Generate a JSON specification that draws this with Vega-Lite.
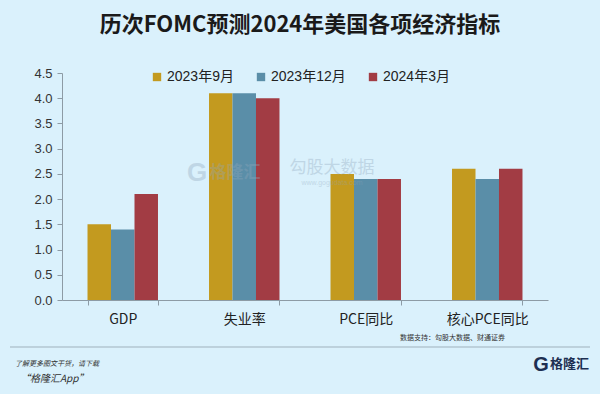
{
  "$schema": "https://vega.github.io/schema/vega-lite/v6.json",
  "autosize": "none",
  "width": 486,
  "height": 227,
  "padding": {"left": 62, "top": 73, "right": 52, "bottom": 94},
  "background": "#daf1fc",
  "title": {
    "text": "历次FOMC预测2024年美国各项经济指标",
    "fontSize": 22,
    "fontWeight": "bold",
    "font": "Noto Sans CJK SC",
    "color": "#1a1a1a",
    "anchor": "middle",
    "frame": "group",
    "dx": -5,
    "dy": -4,
    "offset": 26
  },
  "config": {
    "view": {"stroke": null},
    "font": "Liberation Sans, Noto Sans CJK SC"
  },
  "datasets": {
    "main": [
      {"item": "GDP", "series": "2023年9月", "value": 1.5},
      {"item": "GDP", "series": "2023年12月", "value": 1.4},
      {"item": "GDP", "series": "2024年3月", "value": 2.1},
      {"item": "失业率", "series": "2023年9月", "value": 4.1},
      {"item": "失业率", "series": "2023年12月", "value": 4.1},
      {"item": "失业率", "series": "2024年3月", "value": 4.0},
      {"item": "PCE同比", "series": "2023年9月", "value": 2.5},
      {"item": "PCE同比", "series": "2023年12月", "value": 2.4},
      {"item": "PCE同比", "series": "2024年3月", "value": 2.4},
      {"item": "核心PCE同比", "series": "2023年9月", "value": 2.6},
      {"item": "核心PCE同比", "series": "2023年12月", "value": 2.4},
      {"item": "核心PCE同比", "series": "2024年3月", "value": 2.6}
    ]
  },
  "layer": [
    {
      "data": {"name": "main"},
      "mark": {"type": "bar"},
      "encoding": {
        "x": {
          "field": "item", "type": "nominal",
          "sort": ["GDP", "失业率", "PCE同比", "核心PCE同比"],
          "scale": {"paddingInner": 0.42, "paddingOuter": 0.21},
          "axis": {
            "title": null, "labelAngle": 0, "labelFontSize": 14, "labelColor": "#222",
            "labelPadding": 7, "domainColor": "#8d9ba5", "tickColor": "#8d9ba5",
            "tickSize": 5, "tickBand": "extent", "grid": false,
            "labelFont": "Noto Sans CJK SC"
          }
        },
        "xOffset": {
          "field": "series", "type": "nominal",
          "sort": ["2023年9月", "2023年12月", "2024年3月"],
          "scale": {"paddingInner": 0, "paddingOuter": 0}
        },
        "y": {
          "field": "value", "type": "quantitative",
          "scale": {"domain": [0, 4.5], "nice": false},
          "axis": {
            "title": null, "values": [0, 0.5, 1, 1.5, 2, 2.5, 3, 3.5, 4, 4.5],
            "format": ".1f", "labelFontSize": 13, "labelColor": "#333", "grid": false,
            "domainColor": "#8d9ba5", "tickColor": "#8d9ba5", "tickSize": 5, "labelPadding": 5
          }
        },
        "color": {
          "field": "series", "type": "nominal",
          "sort": ["2023年9月", "2023年12月", "2024年3月"],
          "scale": {"range": ["#c39a1f", "#5a8ea8", "#a23c44"]},
          "legend": {
            "title": null, "orient": "none", "direction": "horizontal",
            "legendX": 88, "legendY": -3, "symbolType": "square", "symbolSize": 70,
            "symbolStrokeWidth": 0, "labelFontSize": 14, "labelColor": "#222",
            "labelOffset": 3, "columnPadding": 20
          }
        }
      }
    },
    {
      "data": {"values": [{"t": "G"}]},
      "mark": {"type": "text", "fontSize": 26, "fontWeight": "bold", "color": "#8fa6bb", "opacity": 0.35, "baseline": "middle"},
      "encoding": {"text": {"field": "t"}, "x": {"value": 135}, "y": {"value": 100}}
    },
    {
      "data": {"values": [{"t": "格隆汇"}]},
      "mark": {"type": "text", "fontSize": 17, "fontWeight": "bold", "font": "Noto Sans CJK SC", "color": "#8fa6bb", "opacity": 0.35, "baseline": "middle"},
      "encoding": {"text": {"field": "t"}, "x": {"value": 173}, "y": {"value": 100}}
    },
    {
      "data": {"values": [{"t": "勾股大数据"}]},
      "mark": {"type": "text", "fontSize": 17, "font": "Noto Sans CJK SC", "color": "#8fa6bb", "opacity": 0.35, "baseline": "middle"},
      "encoding": {"text": {"field": "t"}, "x": {"value": 270}, "y": {"value": 95}}
    },
    {
      "data": {"values": [{"t": "www.gogudata.com"}]},
      "mark": {"type": "text", "fontSize": 7, "color": "#8fa6bb", "opacity": 0.35, "baseline": "middle"},
      "encoding": {"text": {"field": "t"}, "x": {"value": 270}, "y": {"value": 110}}
    },
    {
      "data": {"values": [{"t": "数据支持：勾股大数据、财通证券"}]},
      "mark": {"type": "text", "fontSize": 7, "font": "Noto Sans CJK SC", "color": "#333", "align": "right", "baseline": "middle"},
      "encoding": {"text": {"field": "t"}, "x": {"value": 443}, "y": {"value": 265}}
    },
    {
      "data": {"values": [{"t": "line"}]},
      "mark": {"type": "rule", "color": "#9fb1bc", "strokeWidth": 1},
      "encoding": {"x": {"value": -52}, "x2": {"value": 528}, "y": {"value": 274}}
    },
    {
      "data": {"values": [{"t": "了解更多图文干货，请下载"}]},
      "mark": {"type": "text", "fontSize": 7, "font": "Noto Sans CJK SC", "fontStyle": "italic", "color": "#333", "align": "left", "baseline": "middle"},
      "encoding": {"text": {"field": "t"}, "x": {"value": -47}, "y": {"value": 291}}
    },
    {
      "data": {"values": [{"t": "“格隆汇App”"}]},
      "mark": {"type": "text", "fontSize": 10, "font": "Noto Sans CJK SC", "fontStyle": "italic", "color": "#333", "align": "left", "baseline": "middle"},
      "encoding": {"text": {"field": "t"}, "x": {"value": -42}, "y": {"value": 306}}
    },
    {
      "data": {"values": [{"t": "G"}]},
      "mark": {"type": "text", "fontSize": 20, "fontWeight": "bold", "color": "#1d2f52", "baseline": "middle", "align": "center"},
      "encoding": {"text": {"field": "t"}, "x": {"value": 479}, "y": {"value": 292}}
    },
    {
      "data": {"values": [{"t": "格隆汇"}]},
      "mark": {"type": "text", "fontSize": 13, "fontWeight": "bold", "font": "Noto Sans CJK SC", "color": "#1d2f52", "baseline": "middle", "align": "left"},
      "encoding": {"text": {"field": "t"}, "x": {"value": 488}, "y": {"value": 291}}
    }
  ]
}
